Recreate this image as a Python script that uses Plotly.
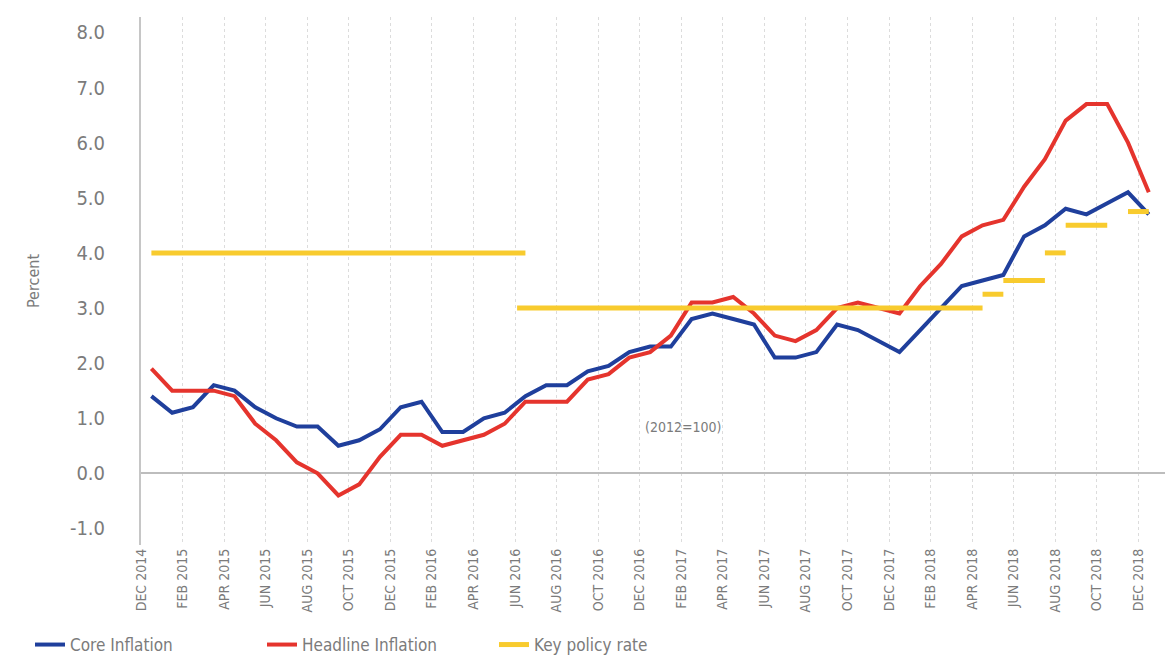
import plotly.graph_objects as go

# Monthly observations, Dec 2014 .. Dec 2018 (49 months, index 0..48)
month_index = list(range(49))

core_inflation = [
    1.4, 1.1, 1.2, 1.6, 1.5, 1.2, 1.0, 0.85, 0.85, 0.5, 0.6, 0.8,   # Dec14-Nov15
    1.2, 1.3, 0.75, 0.75, 1.0, 1.1, 1.4, 1.6, 1.6, 1.85, 1.95, 2.2,  # Dec15-Nov16
    2.3, 2.3, 2.8, 2.9, 2.8, 2.7, 2.1, 2.1, 2.2, 2.7, 2.6, 2.4,      # Dec16-Nov17
    2.2, 2.6, 3.0, 3.4, 3.5, 3.6, 4.3, 4.5, 4.8, 4.7, 4.9, 5.1,      # Dec17-Nov18
    4.7,                                                             # Dec18
]

headline_inflation = [
    1.9, 1.5, 1.5, 1.5, 1.4, 0.9, 0.6, 0.2, 0.0, -0.4, -0.2, 0.3,
    0.7, 0.7, 0.5, 0.6, 0.7, 0.9, 1.3, 1.3, 1.3, 1.7, 1.8, 2.1,
    2.2, 2.5, 3.1, 3.1, 3.2, 2.9, 2.5, 2.4, 2.6, 3.0, 3.1, 3.0,
    2.9, 3.4, 3.8, 4.3, 4.5, 4.6, 5.2, 5.7, 6.4, 6.7, 6.7, 6.0,
    5.1,
]

# Key policy rate: step segments (start month index, end month index, rate)
policy_start = [0, 17.6, 40, 41, 43, 44, 47]
policy_end = [18, 40, 41, 43, 44, 46, 48]
policy_rate = [4.0, 3.0, 3.25, 3.5, 4.0, 4.5, 4.75]

tick_labels = [
    "DEC 2014", "FEB 2015", "APR 2015", "JUN 2015", "AUG 2015", "OCT 2015",
    "DEC 2015", "FEB 2016", "APR 2016", "JUN 2016", "AUG 2016", "OCT 2016",
    "DEC 2016", "FEB 2017", "APR 2017", "JUN 2017", "AUG 2017", "OCT 2017",
    "DEC 2017", "FEB 2018", "APR 2018", "JUN 2018", "AUG 2018", "OCT 2018",
    "DEC 2018",
]
y_tick_values = [-1, 0, 1, 2, 3, 4, 5, 6, 7, 8]
y_tick_labels = ["-1.0", "0.0", "1.0", "2.0", "3.0", "4.0", "5.0", "6.0", "7.0", "8.0"]

FONT = "Liberation Sans Narrow, DejaVu Sans Condensed, Roboto, sans-serif"
GREY = "#7b7b7b"
BLUE = "#1f3f9c"
RED = "#e5342d"
YELLOW = "#f8cb2e"

# The page body adds an 8px offset; size the figure so it fits the window.
W, H = 1166, 651

# build policy segments with gaps
pol_x, pol_y = [], []
for s, e, r in zip(policy_start, policy_end, policy_rate):
    pol_x += [s, e, None]
    pol_y += [r, r, None]

fig = go.Figure()
fig.add_trace(go.Scatter(
    x=month_index, y=core_inflation, mode="lines", name="Core Inflation",
    line=dict(color=BLUE, width=4),
))
fig.add_trace(go.Scatter(
    x=month_index, y=headline_inflation, mode="lines", name="Headline Inflation",
    line=dict(color=RED, width=4),
))
fig.add_trace(go.Scatter(
    x=pol_x, y=pol_y, mode="lines", name="Key policy rate",
    line=dict(color=YELLOW, width=5), connectgaps=False,
))

fig.add_annotation(
    x=25.6, y=0.85, xref="x", yref="y", text="(2012=100)", showarrow=False,
    font=dict(family=FONT, size=14, color=GREY),
)
fig.add_annotation(
    x=(25 - 133) / 1024, y=0.5, xref="paper", yref="paper", text="Percent",
    showarrow=False, textangle=-90, xanchor="center", yanchor="middle",
    font=dict(family=FONT, size=16, color=GREY),
)

fig.update_layout(
    width=W, height=H,
    margin=dict(l=133, r=9, t=9, b=114, autoexpand=False),
    plot_bgcolor="white", paper_bgcolor="white",
    font=dict(family=FONT, color=GREY),
    showlegend=True,
    legend=dict(
        orientation="h", xref="container", yref="container",
        x=22 / W, y=1 - 637 / H, xanchor="left", yanchor="middle",
        font=dict(family=FONT, size=17, color=GREY),
        entrywidth=187, entrywidthmode="pixels",
    ),
    xaxis=dict(
        range=[-0.5, 48.78], automargin=False,
        tickmode="array",
        tickvals=[2 * k - 0.5 for k in range(len(tick_labels))],
        ticktext=tick_labels,
        tickangle=-90,
        tickfont=dict(family=FONT, size=14, color=GREY),
        showgrid=True, gridcolor="#dcdcdc", griddash="dot", gridwidth=1,
        zeroline=False, showline=False, ticks="",
    ),
    yaxis=dict(
        range=[-1.3, 8.28], automargin=False,
        tickmode="array", tickvals=y_tick_values, ticktext=y_tick_labels,
        tickfont=dict(family=FONT, size=20, color=GREY),
        showgrid=False,
        zeroline=True, zerolinecolor="#bdbdbd", zerolinewidth=2,
        showline=True, linecolor="#c6c6c6", linewidth=2,
        ticks="", ticklabelstandoff=30,
    ),
)

fig.write_html("out.html")
